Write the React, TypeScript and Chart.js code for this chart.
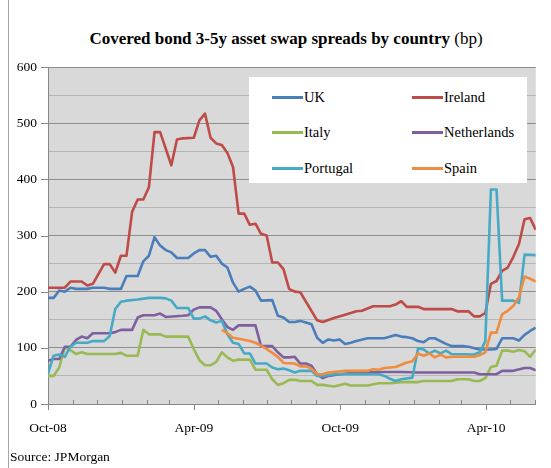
import React, { useEffect, useRef } from 'react';
import { Chart, registerables } from 'chart.js';

Chart.register(...registerables);

// Weekly observations: [weeks since start of Oct-08, spread in bp]
const uk: [number, number][] = [
  [0, 189], [1, 189], [2, 202], [3, 200], [4, 207], [5, 205], [7, 205], [8, 207], [10, 207], [11, 205],
  [13, 205], [14, 228], [16, 228], [17, 254], [18, 264], [19, 297], [20, 282], [21, 274], [22, 270], [23, 260],
  [25, 260], [26, 268], [27, 274], [28, 274], [29, 262], [30, 264], [31, 250], [32, 243], [33, 216], [34, 200],
  [35, 205], [36, 209], [37, 202], [38, 184], [40, 185], [41, 157], [42, 154], [43, 146], [44, 146], [45, 148],
  [46, 145], [47, 142], [48, 118], [49, 109], [50, 115], [51, 113], [52, 115], [53, 107], [54, 109], [55, 112],
  [57, 117], [60, 117], [62, 123], [63, 120], [64, 119], [65, 117], [66, 112], [67, 110], [68, 117], [69, 117],
  [70, 112], [71, 107], [72, 103], [74, 103], [75, 102], [77, 97], [79, 97], [80, 98], [81, 117], [83, 117],
  [84, 113], [85, 123], [86, 130], [87, 136],
];

const ireland: [number, number][] = [
  [0, 207], [3, 207], [4, 218], [6, 218], [7, 211], [8, 214], [10, 249], [11, 249], [12, 234], [13, 264],
  [14, 264], [15, 342], [16, 364], [17, 364], [18, 386], [19, 484], [20, 484], [22, 425], [23, 471], [24, 473],
  [26, 474], [27, 505], [28, 517], [29, 474], [30, 464], [31, 461], [32, 447], [33, 422], [34, 339], [35, 339],
  [36, 319], [37, 321], [38, 303], [39, 300], [40, 252], [41, 252], [42, 240], [43, 205], [44, 200], [45, 199],
  [48, 149], [49, 146], [51, 153], [53, 159], [55, 165], [56, 166], [57, 170], [58, 174], [61, 174], [62, 177],
  [63, 183], [64, 173], [66, 173], [67, 169], [72, 169], [73, 165], [75, 165], [76, 156], [77, 156], [78, 162],
  [79, 214], [80, 219], [81, 237], [82, 243], [83, 262], [84, 285], [85, 329], [86, 331], [87, 310],
];

const italy: [number, number][] = [
  [0, 50], [1, 50], [2, 65], [3, 101], [4, 96], [5, 89], [6, 92], [7, 89], [12, 89], [13, 91],
  [14, 86], [16, 86], [17, 132], [18, 124], [20, 124], [21, 120], [25, 120], [26, 98], [27, 78], [28, 69],
  [29, 69], [30, 75], [31, 92], [32, 83], [33, 77], [34, 79], [36, 79], [37, 61], [39, 61], [40, 44],
  [41, 34], [42, 37], [43, 43], [44, 43], [45, 41], [47, 41], [48, 34], [49, 34], [51, 31], [53, 36],
  [54, 33], [57, 33], [59, 37], [61, 37], [63, 39], [66, 39], [67, 41], [72, 41], [73, 44], [75, 44],
  [76, 41], [77, 41], [78, 46], [79, 66], [80, 68], [81, 95], [82, 95], [83, 93], [84, 96], [85, 94],
  [86, 84], [87, 97],
];

const netherlands: [number, number][] = [
  [0, 77], [1, 80], [2, 80], [3, 102], [4, 102], [5, 114], [6, 120], [7, 117], [8, 126], [11, 126],
  [12, 128], [13, 132], [15, 132], [16, 154], [17, 158], [19, 158], [20, 161], [21, 155], [24, 157], [25, 158],
  [26, 168], [27, 172], [29, 172], [30, 166], [31, 151], [32, 137], [33, 132], [34, 140], [37, 140], [38, 103],
  [40, 103], [41, 92], [42, 83], [43, 83], [44, 84], [45, 72], [46, 72], [47, 68], [48, 53], [49, 46],
  [50, 50], [52, 53], [55, 56], [60, 57], [63, 57], [66, 56], [76, 56], [77, 53], [80, 53], [81, 59],
  [83, 59], [85, 64], [86, 64], [87, 60],
];

const portugal: [number, number][] = [
  [0, 54], [1, 86], [2, 88], [3, 84], [4, 102], [5, 109], [7, 109], [8, 112], [10, 112], [11, 121],
  [12, 169], [13, 182], [14, 184], [16, 186], [18, 189], [20, 189], [21, 188], [22, 184], [23, 171], [25, 171],
  [26, 152], [27, 152], [28, 156], [29, 149], [30, 145], [31, 148], [32, 124], [33, 109], [34, 107], [35, 90],
  [36, 90], [37, 72], [39, 72], [40, 65], [41, 62], [42, 63], [43, 60], [44, 56], [45, 59], [47, 59],
  [48, 50], [49, 50], [51, 53], [59, 53], [60, 50], [61, 45], [62, 41], [63, 44], [65, 47], [66, 99],
  [67, 97], [68, 90], [69, 95], [70, 90], [71, 95], [72, 89], [76, 88], [77, 92], [78, 112], [79, 382],
  [80, 382], [81, 184], [83, 184], [84, 180], [85, 266], [87, 265],
];

const spain: [number, number][] = [
  [31, 132], [32, 126], [33, 118], [34, 116], [36, 112], [37, 109], [38, 104], [39, 98], [40, 91], [41, 84],
  [42, 73], [44, 72], [45, 67], [46, 67], [47, 63], [48, 53], [49, 53], [50, 56], [53, 59], [57, 59],
  [58, 62], [59, 61], [60, 64], [62, 66], [63, 70], [64, 74], [65, 76], [66, 90], [67, 86], [68, 90],
  [69, 83], [70, 88], [71, 83], [72, 84], [76, 84], [77, 87], [78, 92], [79, 127], [80, 127], [81, 160],
  [82, 166], [83, 175], [84, 190], [85, 227], [86, 223], [87, 218],
];

const countries = ['UK', 'Ireland', 'Italy', 'Netherlands', 'Portugal', 'Spain'];
const colors = ['#4A7EBB', '#BE4B48', '#98B954', '#7D60A0', '#46AAC5', '#F08C3E'];
const seriesData = [uk, ireland, italy, netherlands, portugal, spain];

const yTickStep = 50;
const yMax = 600;
const labelledMonths = ['Oct-08', 'Apr-09', 'Oct-09', 'Apr-10'];
const monthNames = ['Jan', 'Feb', 'Mar', 'Apr', 'May', 'Jun', 'Jul', 'Aug', 'Sep', 'Oct', 'Nov', 'Dec'];

const DAY_MS = 86400000;
const START = Date.UTC(2008, 9, 1);
const LAST_WEEK = 87;

// Month starts (in days since 1 Oct 2008) from Oct-08 through Jun-10
const monthTicks = Array.from({ length: 21 }, (_, i) => {
  const d = new Date(Date.UTC(2008, 9 + i, 1));
  const name = `${monthNames[d.getUTCMonth()]}-${String(d.getUTCFullYear()).slice(2)}`;
  return { value: Math.round((d.getTime() - START) / DAY_MS), name };
});

const SERIF = '"Liberation Serif", "Times New Roman", serif';

const chartFrame = {
  id: 'chartFrame',
  beforeDraw(chart: any) {
    const { ctx, chartArea: a } = chart;
    ctx.save();
    ctx.fillStyle = '#d9d9d9';
    ctx.fillRect(a.left, a.top, a.right - a.left, a.bottom - a.top);
    ctx.restore();
  },
  afterDraw(chart: any) {
    const { ctx, chartArea: a, scales } = chart;
    ctx.save();
    ctx.strokeStyle = '#868686';
    ctx.lineWidth = 1;
    ctx.beginPath();
    // y-axis tick marks outside at each labelled value
    for (let v = 0; v <= yMax; v += 100) {
      const y = Math.round(scales.y.getPixelForValue(v)) + 0.5;
      ctx.moveTo(a.left - 7, y);
      ctx.lineTo(a.left, y);
    }
    // x-axis: monthly minor ticks inside, half-yearly major ticks outside
    for (const t of monthTicks) {
      const x = Math.round(scales.x.getPixelForValue(t.value)) + 0.5;
      if (labelledMonths.includes(t.name)) {
        ctx.moveTo(x, a.bottom);
        ctx.lineTo(x, a.bottom + 6);
      } else {
        ctx.moveTo(x, a.bottom - 4);
        ctx.lineTo(x, a.bottom);
      }
    }
    ctx.stroke();
    ctx.restore();
  },
};

export default function App() {
  const canvasRef = useRef<HTMLCanvasElement>(null);

  useEffect(() => {
    const canvas = canvasRef.current;
    if (!canvas) return;
    const chart = new Chart(canvas, {
      type: 'line',
      data: {
        datasets: seriesData.map((s, i) => ({
          label: countries[i],
          data: s.map(([w, v]) => ({ x: w * 7, y: v })),
          borderColor: colors[i],
          backgroundColor: colors[i],
          borderWidth: 2.6,
          pointRadius: 0,
          tension: 0,
          order: countries.length - i,
          borderJoinStyle: 'round' as const,
        })),
      },
      options: {
        animation: false,
        responsive: false,
        devicePixelRatio: 1,
        layout: { padding: { top: 67, right: 13, left: 0, bottom: 0 } },
        plugins: { legend: { display: false }, tooltip: { enabled: false }, title: { display: false } },
        scales: {
          x: {
            type: 'linear',
            min: 0,
            max: LAST_WEEK * 7,
            afterFit: (s: any) => { s.height = 64; },
            afterBuildTicks: (s: any) => { s.ticks = monthTicks.map((t) => ({ value: t.value })); },
            grid: { color: 'rgba(0,0,0,0)', drawTicks: false },
            border: { display: true, color: '#868686', width: 1 },
            ticks: {
              autoSkip: false,
              maxRotation: 0,
              padding: 16,
              color: '#000',
              font: { family: SERIF, size: 13.5 },
              callback: (value: any) => {
                const t = monthTicks.find((m) => m.value === value);
                return t && labelledMonths.includes(t.name) ? t.name : '';
              },
            },
          },
          y: {
            min: 0,
            max: yMax,
            afterFit: (s: any) => { s.width = 48; },
            grid: {
              drawTicks: false,
              lineWidth: 1,
              color: (c: any) => (c.tick && c.tick.value % 100 === 0 ? '#8e8e8e' : '#b6b6b6'),
            },
            border: { display: true, color: '#868686', width: 1 },
            ticks: {
              stepSize: yTickStep,
              padding: 11,
              color: '#000',
              font: { family: SERIF, size: 13.5 },
              callback: (value: any) => (value % 100 === 0 ? String(value) : ''),
            },
          },
        },
      },
      plugins: [chartFrame],
    });
    return () => chart.destroy();
  }, []);

  const legendRows = [[0, 1], [2, 3], [4, 5]];

  return (
    <div style={{ position: 'fixed', left: 0, top: 0, width: 551, height: 468, background: '#fff', fontFamily: SERIF, overflow: 'hidden' }}>
      <div style={{ position: 'absolute', left: 8, top: 0, width: 1, height: 468, background: '#a6a6a6' }} />
      <div style={{ position: 'absolute', left: 21, top: 29, width: 530, textAlign: 'center', fontSize: 17, lineHeight: '20px', color: '#000', whiteSpace: 'nowrap' }}>
        <span style={{ fontWeight: 'bold' }}>Covered bond 3-5y asset swap spreads by country</span>{' '}
        <span>(bp)</span>
      </div>
      <canvas ref={canvasRef} width={551} height={468} style={{ position: 'absolute', left: 0, top: 0, width: 551, height: 468 }} />
      <div style={{ position: 'absolute', left: 249, top: 77, width: 278, height: 106, background: '#fff' }}>
        {legendRows.map((row, r) =>
          row.map((idx, c) => (
            <div key={idx} style={{ position: 'absolute', left: c === 0 ? 23 : 163, top: 20 + r * 35.5 - 10, height: 20, display: 'flex', alignItems: 'center' }}>
              <div style={{ width: 31, height: 3, background: colors[idx] }} />
              <span style={{ marginLeft: 1, fontSize: 14.5, color: '#000' }}>{countries[idx]}</span>
            </div>
          ))
        )}
      </div>
      <div style={{ position: 'absolute', left: 10, top: 449, fontSize: 13.5, color: '#000' }}>Source: JPMorgan</div>
    </div>
  );
}
